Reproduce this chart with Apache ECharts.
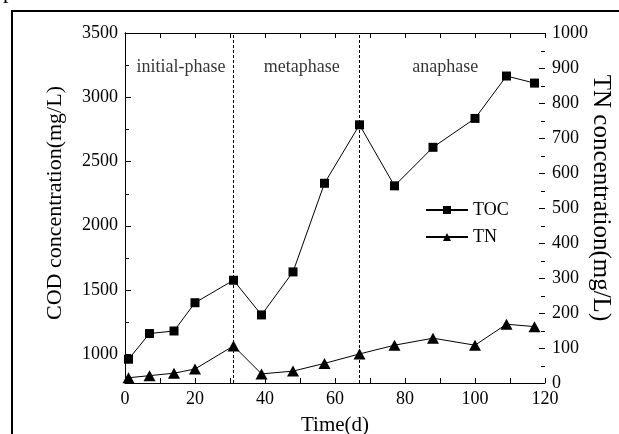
<!DOCTYPE html>
<html>
<head>
<meta charset="utf-8">
<script src="https://cdn.jsdelivr.net/npm/echarts@6/dist/echarts.min.js"></script>
<style>
  html, body { margin: 0; padding: 0; background: #fff; }
  #main { width: 619px; height: 434px; }
</style>
</head>
<body>
<div id="main"></div>
<script>
// sampling days and measured values
const days = [1, 7, 14, 20, 31, 39, 48, 57, 67, 77, 88, 100, 109, 117];
const tocValues = [960, 1160, 1180, 1400, 1575, 1305, 1640, 2330, 2785, 2310, 2610, 2835, 3165, 3110];
const tnValues = [15, 21, 28, 40, 106, 26, 34, 56, 83, 108, 128, 108, 168, 161];

// phase boundaries (days) and phase captions
const phaseBounds = [31, 67];
const phaseNames = ['initial-phase', 'metaphase', 'anaphase'];
const phaseDays = [16, 50.5, 91.5];
const phaseLevel = 3235;

// tick labels and tick marks of the two vertical axes
const codLabels = [1000, 1500, 2000, 2500, 3000, 3500];
const codTicks = [1000, 1250, 1500, 1750, 2000, 2250, 2500, 2750, 3000, 3250, 3500];
const tnTicks = [0, 50, 100, 150, 200, 250, 300, 350, 400, 450, 500,
  550, 600, 650, 700, 750, 800, 850, 900, 950, 1000];

const FONT = '"Liberation Serif", "Times New Roman", serif';
const black = '#000';

const myChart = echarts.init(document.getElementById('main'));

const line = () => ({ show: true, lineStyle: { color: black, width: 1 } });
const label = extra => Object.assign({
  color: black, fontSize: 18, fontFamily: FONT, margin: 7,
  formatter: v => String(v)
}, extra);
const nameStyle = (size, padding) => ({ color: black, fontSize: size, fontFamily: FONT, padding: padding });

// inward tick marks on a y axis, placed through the axis scale
const tickSeries = (yIndex, xAt, values, dir, majorStep) => ({
  type: 'custom',
  yAxisIndex: yIndex,
  silent: true,
  clip: false,
  encode: { x: 0, y: 1 },
  data: values.map(v => [xAt, v]),
  renderItem: (params, api) => {
    const p = api.coord([api.value(0), api.value(1)]);
    const len = api.value(1) % majorStep === 0 ? 6 : 4;
    const y = Math.round(p[1]) + 0.5;
    return {
      type: 'line',
      shape: { x1: p[0], y1: y, x2: p[0] + dir * len, y2: y },
      style: { stroke: black, lineWidth: 1 }
    };
  }
});

const option = {
  animation: false,
  backgroundColor: '#fff',
  grid: { left: 125, right: 74, top: 33, bottom: 51, outerBoundsMode: 'none' },
  legend: {
    data: ['TOC', 'TN'],
    orient: 'vertical',
    left: 420,
    top: 196,
    itemWidth: 42,
    itemHeight: 10,
    itemGap: 9,
    textStyle: { color: black, fontSize: 18, fontFamily: FONT }
  },
  xAxis: [
    {
      type: 'value',
      min: 0,
      max: 120,
      interval: 10,
      name: 'Time(d)',
      nameLocation: 'middle',
      nameGap: 32,
      nameMoveOverlap: false,
      nameTextStyle: nameStyle(21),
      axisLine: line(),
      axisTick: { show: true, inside: true, length: 5, lineStyle: { color: black } },
      splitLine: { show: false },
      axisLabel: label({ formatter: v => (v % 20 === 0 ? String(v) : '') })
    },
    {
      type: 'value',
      position: 'top',
      min: 0,
      max: 120,
      interval: 10,
      axisLine: line(),
      axisTick: { show: true, inside: true, length: 5, lineStyle: { color: black } },
      splitLine: { show: false },
      axisLabel: { show: false }
    }
  ],
  yAxis: [
    {
      type: 'value',
      min: 775,
      max: 3500,
      name: 'COD concentration(mg/L)',
      nameLocation: 'middle',
      nameGap: 59,
      nameMoveOverlap: false,
      nameTextStyle: nameStyle(22, [0, 0, 0, 10]),
      axisLine: line(),
      axisTick: { show: false },
      splitLine: { show: false },
      axisLabel: label({ customValues: codLabels })
    },
    {
      type: 'value',
      position: 'right',
      min: 0,
      max: 1000,
      interval: 100,
      name: 'TN concentration(mg/L)',
      nameLocation: 'middle',
      nameGap: 43,
      nameRotate: -90,
      nameMoveOverlap: false,
      nameTextStyle: nameStyle(25, [0, 20, 0, 0]),
      axisLine: line(),
      axisTick: { show: false },
      splitLine: { show: false },
      axisLabel: label()
    }
  ],
  series: [
    {
      name: 'TOC',
      type: 'line',
      yAxisIndex: 0,
      data: days.map((d, i) => [d, tocValues[i]]),
      symbol: 'rect',
      symbolSize: 9,
      itemStyle: { color: black },
      lineStyle: { color: black, width: 1 },
      markLine: {
        silent: true,
        symbol: ['none', 'none'],
        label: { show: false },
        lineStyle: { color: black, width: 1, type: [3, 2] },
        data: phaseBounds.map(b => ({ xAxis: b }))
      }
    },
    {
      name: 'TN',
      type: 'line',
      yAxisIndex: 1,
      data: days.map((d, i) => [d, tnValues[i]]),
      symbol: 'triangle',
      symbolSize: [12, 11],
      itemStyle: { color: black },
      lineStyle: { color: black, width: 1 }
    },
    {
      name: 'phases',
      type: 'scatter',
      yAxisIndex: 0,
      symbolSize: 0,
      silent: true,
      data: phaseNames.map((n, i) => ({ name: n, value: [phaseDays[i], phaseLevel] })),
      label: {
        show: true,
        position: 'inside',
        formatter: '{b}',
        color: black,
        fontSize: 18,
        fontFamily: FONT
      }
    },
    tickSeries(0, 0, codTicks, 1, 500),
    tickSeries(1, 120, tnTicks, -1, 100)
  ],
  graphic: [
    {
      type: 'polyline',
      shape: { points: [[12, 434], [12, 11], [619, 11]] },
      style: { stroke: black, lineWidth: 2, fill: null }
    },
    {
      type: 'text',
      left: 3,
      top: -19,
      style: { text: 'p', fill: black, fontSize: 22, fontFamily: FONT }
    }
  ]
};

myChart.setOption(option);
</script>
</body>
</html>
